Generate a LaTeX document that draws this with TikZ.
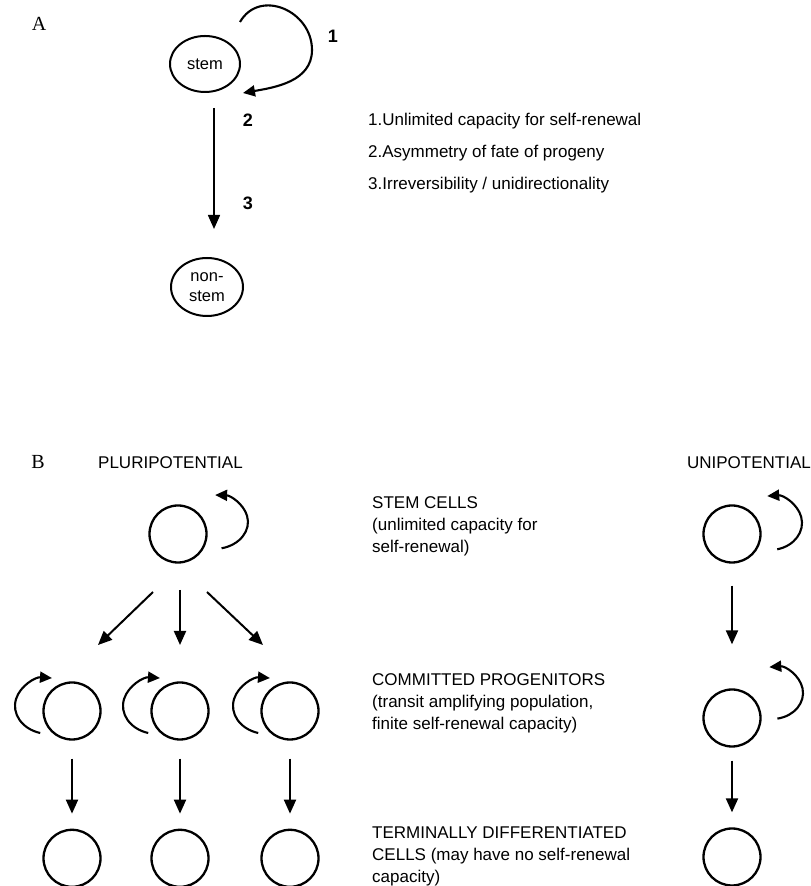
\documentclass[tikz,border=0pt]{standalone}
\usepackage{fontspec}
\setmainfont{Liberation Sans}
\newfontfamily\panelfont{Liberation Serif}
\usetikzlibrary{shapes.geometric,arrows.meta,positioning}

\begin{document}
\begin{tikzpicture}[
    x=1pt, y=1pt,
    node distance=88pt,
    cell/.style={circle, draw, line width=2.3pt, minimum size=57pt, inner sep=0pt},
    oval/.style={ellipse, draw, line width=2pt, minimum width=70pt, minimum height=56pt, inner sep=0pt, align=center, font=\fontsize{16.5}{20}\selectfont},
    arrow/.style={-{Triangle[length=14pt,width=12pt]}, line width=2pt},
    renew/.style={-{Triangle[length=12pt,width=11pt]}, line width=2.1pt},
    txt/.style={anchor=west, align=left, inner sep=0pt, font=\fontsize{17}{22}\selectfont},
    num/.style={font=\fontsize{18}{20}\selectfont\bfseries},
    panel/.style={font=\panelfont\fontsize{20}{22}\selectfont}
]
\useasboundingbox (0,0) rectangle (811,886);

% A: the three properties
\node[panel] (la) at (39,862) {A};
\node[oval] (stem) at (205,822) {stem};
\node[oval, minimum width=72pt, minimum height=58pt] (nonstem) at (207,599) {non-\\stem};
\node[num] (n1) at (333,850) {1};
\node[num] (n2) at (248,766) {2};
\node[num] (n3) at (248,683) {3};
\node[txt] (p1) at (368,765) {1.Unlimited capacity for self-renewal};
\node[txt] (p2) at (368,733) {2.Asymmetry of fate of progeny};
\node[txt] (p3) at (368,701) {3.Irreversibility / unidirectionality};

\draw[renew] ([shift={(35pt,42pt)}]stem.center) to[out=60, in=90, looseness=1.3] ([shift={(107pt,14pt)}]stem.center)
    to[out=-90, in=10] ([shift={(38pt,-29pt)}]stem.center);
\draw[arrow, line width=1.6pt, shorten <=15pt, shorten >=28pt] ([xshift=9pt]stem.south) -- ([xshift=7pt]nonstem.north);

% B: lineages
\node[panel] (lb) at (38,424) {B};
\node[txt] (pluri) at (98,423) {PLURIPOTENTIAL};
\node[txt, anchor=east] (uni) at (811,423) {UNIPOTENTIAL};

\node[cell] (ps) at (178,352) {};
\node[cell] (c1) at (72,175) {};
\node[cell] (c2) at (180,175) {};
\node[cell] (c3) at (290,175) {};
\node[cell, below=of c1] (t1) {};
\node[cell, below=of c2] (t2) {};
\node[cell, below=of c3] (t3) {};

\node[cell] (us) at (732,352) {};
\node[cell] (uc) at (732,168) {};
\node[cell] (ut) at (732,29) {};

\node[txt] (dstem) at (372,360) {STEM CELLS\\(unlimited capacity for\\self-renewal)};
\node[txt] (dcom) at (372,183) {COMMITTED PROGENITORS\\(transit amplifying population,\\finite self-renewal capacity)};
\node[txt] (dterm) at (372,30) {TERMINALLY DIFFERENTIATED\\CELLS (may have no self-renewal\\capacity)};

% self-renewal loops
\draw[renew] ([shift={(43.6pt,-14.3pt)}]ps.center) arc[start angle=-77, end angle=88, x radius=34pt, y radius=27pt];
\draw[renew] ([shift={(45.2pt,-15.3pt)}]us.center) arc[start angle=-77, end angle=95, x radius=32pt, y radius=27pt];
\draw[renew] ([shift={(45.4pt,-0.6pt)}]uc.center) arc[start angle=-80, end angle=95, x radius=31pt, y radius=26pt];
\foreach \c in {c1,c2,c3}
    \draw[renew] ([shift={(-31.8pt,-22pt)}]\c.center) arc[start angle=255, end angle=85, x radius=34pt, y radius=28pt];

% lineage arrows
\draw[arrow] ([shift={(-25pt,-58pt)}]ps.center) -- ([shift={(26pt,66pt)}]c1.center);
\draw[arrow] ([shift={(2pt,-56pt)}]ps.center) -- ([shift={(0pt,66pt)}]c2.center);
\draw[arrow] ([shift={(29pt,-58pt)}]ps.center) -- ([shift={(-27pt,66pt)}]c3.center);
\foreach \a/\b in {c1/t1,c2/t2,c3/t3}
    \draw[arrow, shorten <=18pt, shorten >=15pt] (\a.south) -- (\b.north);
\draw[arrow, shorten <=22pt, shorten >=44pt] (us.south) -- (uc.north);
\draw[arrow, shorten <=13pt, shorten >=15pt] (uc.south) -- (ut.north);
\end{tikzpicture}
\end{document}
